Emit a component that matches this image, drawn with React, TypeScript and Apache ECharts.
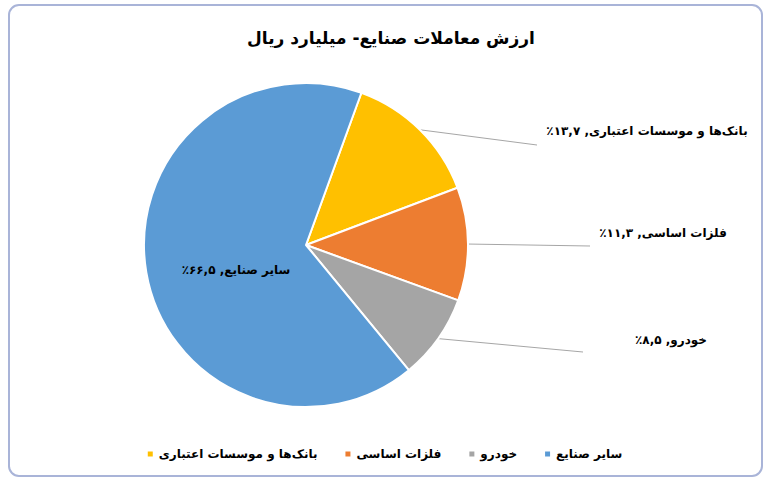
import React, { useEffect, useRef } from "react";
import * as echarts from "echarts";

const TITLE = "ارزش معاملات صنایع- میلیارد ریال";
const categories = ["بانک‌ها و موسسات اعتباری", "فلزات اساسی", "خودرو", "سایر صنایع"];
const values = [13.7, 11.3, 8.5, 66.5];
const colors = ["#FFC000", "#ED7D31", "#A5A5A5", "#5B9BD5"];

const FONT = "'DejaVu Sans', 'Noto Sans', sans-serif";

function toPersian(v: number): string {
  const digits = "۰۱۲۳۴۵۶۷۸۹";
  return String(v)
    .replace(".", ",")
    .replace(/[0-9]/g, (d) => digits[Number(d)]);
}

// label anchor (text centre) and leader-line end for each label
const labelSpots: Record<number, { x: number; y: number; ex?: number; ey?: number }> = {
  0: { x: 647, y: 131, ex: 537, ey: 145 },
  1: { x: 663, y: 233, ex: 590, ey: 246 },
  2: { x: 671, y: 340, ex: 583, ey: 352 },
  3: { x: 236, y: 270 },
};

export default function App() {
  const ref = useRef<HTMLDivElement>(null);
  useEffect(() => {
    document.body.style.margin = "0";
    if (!ref.current) return;
    const chart = echarts.init(ref.current, null, { renderer: "svg" });
    chart.setOption({
      animation: false,
      backgroundColor: "#ffffff",
      graphic: [
        {
          type: "rect",
          shape: { x: 9, y: 5, width: 753, height: 471, r: 10 },
          style: { fill: "none", stroke: "#A9B4D8", lineWidth: 2 },
          silent: true,
          z: 0,
        },
      ],
      title: {
        text: TITLE,
        left: 386,
        top: 24,
        textAlign: "center",
        textStyle: { fontFamily: FONT, fontSize: 17, fontWeight: "bold", color: "#000" },
      },
      legend: {
        data: categories,
        left: "center",
        top: 443,
        icon: "rect",
        itemWidth: 7,
        itemHeight: 7,
        itemGap: 26,
        textStyle: { fontFamily: FONT, fontSize: 12, fontWeight: "bold", color: "#000" },
      },
      series: [
        {
          type: "pie",
          center: [306, 245],
          radius: 162,
          startAngle: 70,
          clockwise: true,
          itemStyle: { borderColor: "#fff", borderWidth: 2 },
          label: {
            show: true,
            position: "outside",
            fontFamily: FONT,
            fontSize: 12,
            fontWeight: "bold",
            color: "#000",
            formatter: (p: any) => `${p.name}, ${toPersian(p.value)}٪\u200F`,
          },
          labelLine: { show: true, length: 20, length2: 40, lineStyle: { color: "#A6A6A6", width: 1 } },
          labelLayout: (params: any) => {
            const cfg = labelSpots[params.dataIndex];
            if (!cfg) return {};
            const pts = params.labelLinePoints;
            const res: any = { x: cfg.x, y: cfg.y, align: "center", verticalAlign: "middle" };
            if (cfg.ex !== undefined && pts && pts.length) {
              res.labelLinePoints = [pts[0], [cfg.ex, cfg.ey], [cfg.ex, cfg.ey]];
            }
            return res;
          },
          data: categories.map((name, i) => ({
            name,
            value: values[i],
            itemStyle: { color: colors[i] },
            ...(i === 3
              ? { label: { position: "inside" }, labelLine: { show: false } }
              : {}),
          })),
        },
      ],
    });
    return () => chart.dispose();
  }, []);
  return (
    <div
      ref={ref}
      style={{ position: "absolute", left: 0, top: 0, width: 768, height: 485 }}
    />
  );
}
